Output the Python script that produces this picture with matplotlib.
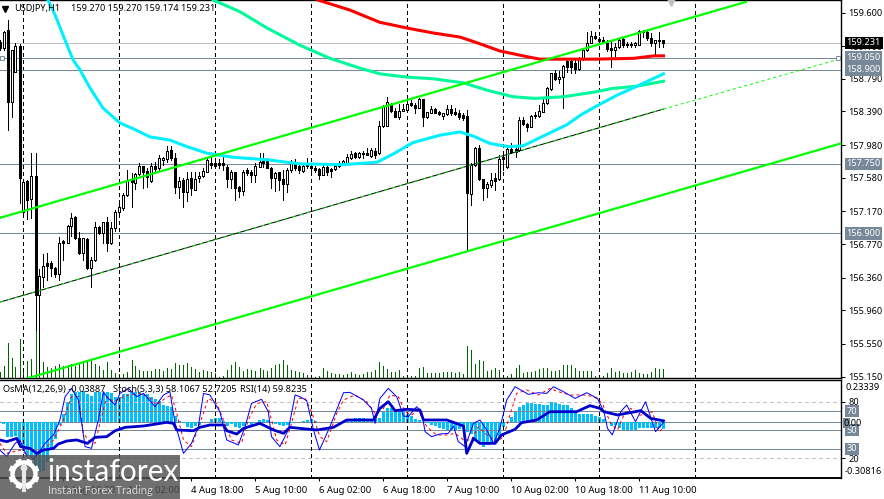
import numpy as np
import matplotlib
matplotlib.use("Agg")
import matplotlib.pyplot as plt
from matplotlib.patches import Rectangle, Circle

plt.rcParams['font.family'] = ['Noto Sans', 'DejaVu Sans']

# ---------- data ----------
first_bar = -1
opens = [159.24,159.17,159.39,158.51,158.87,159.19,157.16,157.54,157.32,157.60,
 156.15,156.37,156.54,156.54,156.48,156.40,156.81,156.78,156.99,157.10,
 156.84,156.66,156.83,156.48,156.58,156.98,156.90,157.04,156.78,156.97,
 157.16,157.21,157.37,157.55,157.52,157.63,157.72,157.66,157.54,157.72,
 157.70,157.80,157.81,157.92,157.82,157.47,157.55,157.41,157.58,157.43,
 157.58,157.60,157.65,157.76,157.76,157.76,157.76,157.71,157.56,157.65,
 157.47,157.42,157.68,157.65,157.61,157.71,157.81,157.80,157.70,157.58,
 157.65,157.56,157.50,157.68,157.76,157.72,157.66,157.74,157.72,157.70,
 157.69,157.61,157.71,157.69,157.69,157.72,157.76,157.76,157.82,157.88,
 157.83,157.88,157.88,157.85,157.91,157.88,158.21,158.21,158.47,158.40,
 158.32,158.40,158.41,158.49,158.47,158.43,158.54,158.32,158.37,158.42,
 158.38,158.34,158.36,158.42,158.38,158.37,158.35,158.33,157.38,157.74,
 157.94,157.56,157.45,157.49,157.58,157.56,157.83,157.71,157.93,157.93,
 157.92,158.29,158.24,158.20,158.35,158.33,158.38,158.49,158.67,158.86,
 158.79,158.81,159.01,159.01,158.98,158.91,159.03,159.14,159.23,159.31,
 159.28,159.26,159.23,159.17,159.14,159.18,159.28,159.21,159.21,159.20,
 159.20,159.37,159.36,159.29,159.23,159.27,159.27]
highs = [159.26,159.37,159.51,159.14,159.23,159.22,157.54,157.55,157.88,157.88,
 156.46,156.65,156.66,156.56,156.49,156.86,156.82,157.00,157.15,157.11,
 156.92,156.84,156.84,156.61,157.04,156.99,157.04,157.10,157.04,157.19,
 157.26,157.39,157.68,157.64,157.64,157.76,157.72,157.70,157.76,157.77,
 157.86,157.83,157.97,157.97,157.88,157.59,157.58,157.65,157.65,157.65,
 157.65,157.70,157.83,157.83,157.80,157.81,157.83,157.74,157.68,157.65,
 157.48,157.68,157.70,157.68,157.76,157.88,157.88,157.82,157.71,157.65,
 157.65,157.68,157.70,157.80,157.81,157.74,157.76,157.82,157.76,157.72,
 157.70,157.76,157.72,157.70,157.76,157.78,157.80,157.87,157.91,157.90,
 157.90,157.91,157.94,157.94,157.94,158.27,158.47,158.57,158.49,158.43,
 158.48,158.48,158.55,158.53,158.49,158.55,158.54,158.38,158.46,158.43,
 158.40,158.37,158.47,158.47,158.43,158.41,158.37,158.41,157.76,157.96,
 157.98,157.56,157.53,157.64,157.64,157.86,157.86,157.96,158.00,157.96,
 158.32,158.32,158.25,158.35,158.38,158.47,158.57,158.69,158.86,158.90,
 158.89,158.96,159.02,159.04,159.02,159.06,159.17,159.36,159.37,159.36,
 159.30,159.30,159.26,159.25,159.23,159.29,159.30,159.24,159.24,159.24,
 159.39,159.39,159.39,159.35,159.26,159.36,159.27]
lows = [159.14,159.14,158.16,158.32,158.87,157.27,157.12,157.08,157.09,155.72,
 155.17,156.24,156.33,156.38,156.37,156.33,156.58,156.78,156.87,156.83,
 156.65,156.58,156.46,156.24,156.56,156.89,156.78,156.68,156.77,156.93,
 157.15,157.19,157.36,157.22,157.44,157.61,157.45,157.47,157.53,157.65,
 157.68,157.74,157.77,157.80,157.39,157.33,157.22,157.30,157.37,157.43,
 157.53,157.59,157.65,157.70,157.70,157.70,157.68,157.47,157.45,157.31,
 157.34,157.37,157.61,157.53,157.53,157.71,157.71,157.70,157.45,157.42,
 157.43,157.31,157.40,157.65,157.68,157.64,157.65,157.70,157.64,157.65,
 157.56,157.61,157.61,157.59,157.68,157.71,157.74,157.76,157.81,157.82,
 157.82,157.82,157.86,157.83,157.82,157.87,158.20,158.21,158.38,158.32,
 158.30,158.40,158.41,158.46,158.37,158.43,158.21,158.31,158.37,158.37,
 158.35,158.30,158.35,158.35,158.35,158.30,158.29,156.70,157.25,157.72,
 157.55,157.31,157.34,157.47,157.43,157.55,157.68,157.70,157.88,157.83,
 157.91,158.23,158.15,158.20,158.31,158.32,158.38,158.48,158.65,158.78,
 158.74,158.43,158.87,158.86,158.86,158.90,159.02,159.13,159.23,159.28,
 159.23,159.23,159.13,158.93,159.07,159.17,159.18,159.18,159.18,159.18,
 159.20,159.30,159.26,159.19,159.07,159.18,159.174]
closes = [159.17,159.36,158.51,159.14,159.19,157.58,157.53,157.31,157.60,156.15,
 156.38,156.50,156.50,156.48,156.40,156.78,156.78,156.99,157.09,156.84,
 156.66,156.84,156.48,156.58,156.98,156.90,157.04,156.78,156.97,157.16,
 157.22,157.37,157.55,157.53,157.63,157.72,157.65,157.59,157.72,157.69,
 157.82,157.82,157.91,157.82,157.47,157.54,157.41,157.56,157.45,157.56,
 157.60,157.66,157.80,157.74,157.72,157.74,157.74,157.56,157.65,157.45,
 157.42,157.65,157.64,157.61,157.72,157.77,157.76,157.70,157.58,157.64,
 157.55,157.50,157.68,157.76,157.70,157.68,157.72,157.72,157.70,157.68,
 157.61,157.71,157.65,157.66,157.72,157.76,157.78,157.83,157.87,157.83,
 157.88,157.87,157.86,157.92,157.86,158.21,158.46,158.51,158.40,158.32,
 158.40,158.42,158.48,158.47,158.43,158.54,158.32,158.38,158.42,158.37,
 158.36,158.37,158.42,158.37,158.36,158.32,158.31,157.39,157.74,157.94,
 157.56,157.45,157.50,157.55,157.54,157.81,157.81,157.93,157.90,157.90,
 158.29,158.24,158.20,158.33,158.33,158.40,158.49,158.68,158.86,158.79,
 158.81,158.95,158.93,158.93,158.91,159.03,159.14,159.23,159.31,159.29,
 159.25,159.24,159.15,159.14,159.18,159.26,159.20,159.20,159.20,159.23,
 159.37,159.36,159.29,159.23,159.26,159.25,159.231]
volumes = [6,12,35,20,11,39,8,17,19,48,32,
 16,11,10,12,14,12,13,14,12,14,16,18,18,14,12,8,16,8,5,4,4,6,18,12,8,7,7,7,9,9,7,
 10,9,15,13,13,15,11,9,6,8,7,6,5,1,2,8,13,16,11,7,9,8,7,10,8,7,10,13,14,18,13,8,7,6,
 5,3,1,1,2,10,7,5,4,4,3,4,6,4,3,4,6,6,8,16,12,9,6,6,8,2,1,2,2,10,11,5,5,5,5,6,6,6,5,6,
 4,32,28,14,18,17,7,8,10,8,1,2,4,10,13,5,6,6,7,9,10,10,7,7,8,13,13,13,10,7,7,7,7,2,1,
 2,5,10,6,7,5,5,6,8,5,4,4,6,10,9,9]
osma = [0,-.01,-.083,-.083,-.074,-.11,-.16,-.184,-.22,-.30,-.276,-.267,-.22,-.147,-.092,-.018,
 .046,.11,.157,.166,.166,.175,.157,.144,.166,.166,.162,.169,.162,.138,.138,
 .157,.157,.166,.166,.166,.157,.157,.138,.129,.12,.096,.092,.083,.037,.009,
 -.004,-.028,-.033,-.022,-.015,0,.004,.018,.022,.022,.009,-.022,-.009,-.028,-.033,
 -.022,0,-.015,.004,.015,.018,.015,0,-.009,-.015,-.022,-.015,-.004,0,0,
 .009,.011,.018,.009,0,0,0,0,0,0,.009,.015,.018,.022,.022,.022,.018,.018,.018,.022,
 .064,.079,.077,.07,.07,.055,.046,.033,.018,.013,.004,-.004,-.013,-.022,-.033,
 -.037,-.041,-.041,-.041,-.037,-.037,-.055,-.064,-.101,-.12,-.138,-.125,-.114,-.101,-.083,
 -.028,.004,.028,.055,.083,.098,.105,.107,.101,.101,.098,.098,.11,.107,.101,
 .098,.096,.077,.055,.046,.046,.044,.044,.033,.028,
 .018,0,-.022,-.015,-.033,-.041,-.041,-.046,-.046,-.033,-.033,-.033,-.033,-.033,-.033,-.039]

cyan_bar = [11.1,12.9,15.4,17.4,19.1,21.6,24.9,29.1,32.4,36.6,41.6,45.9,50.9,57.4,65.9,74.1,
 84.9,93.4,97.4,102.4,109.1,114.1,117.4,121.6,126.1,129.9,134.1,140.9,144.4,148,153.4,158.4,165]
cyan_val = [159.753,159.57,159.26,159.02,158.90,158.68,158.43,158.25,158.18,158.08,158.04,157.96,
 157.88,157.83,157.80,157.75,157.74,157.77,157.87,158.01,158.10,158.14,158.09,158.00,157.96,157.97,
 158.07,158.23,158.35,158.45,158.59,158.70,158.85]
teal_bar = [52.4,59.1,65.9,74.1,81.6,89.1,94.1,100.9,107.4,115,120.9,127.4,132.9,140,148,152,158.4,165]
teal_val = [159.753,159.61,159.41,159.20,159.04,158.92,158.85,158.81,158.79,158.74,158.65,158.57,
 158.55,158.57,158.63,158.67,158.70,158.76]
red_bar = [78.6,86.6,94.1,100.9,107.4,114.1,118.4,124.1,130.9,134.1,140.9,148,157.6,162.6,165]
red_val = [159.753,159.63,159.48,159.41,159.35,159.30,159.23,159.13,159.06,159.03,159.03,159.03,
 159.04,159.07,159.07]

rsi_bar = [-0.9,0.8,3.3,4.3,6.6,8.3,10,12.5,13.7,15.8,18.3,21,22.9,25.8,27.9,30.4,35,40.8,42.5,43.3,
 47.5,49.1,51.6,55,55.8,58.3,60,64.1,67.5,70,71.6,74.1,78.3,82.5,85.8,92.5,94.1,96.2,97.9,100.8,
 104.1,105,110.8,115,115.8,117.5,119.1,122.9,124.5,127.9,129.5,133.3,136.6,143.3,146.6,149.1,
 150.1,153.5,159.3,161.8,165]
rsi_val = [39.5,37.7,41.2,32.4,30.6,25.3,28.8,30.6,35.2,38.4,39.5,35.9,42.3,43,49.3,52.9,54.3,58.2,
 57.1,50.1,49.3,52.9,55.4,55.4,49.3,45.8,51.8,57.1,50.1,46.5,52.9,51.8,50.1,52.9,60.7,60.7,73,80.1,
 70.6,72,71.3,60.7,60.7,54.3,25.3,41.2,35.9,35.9,44.8,50.8,57.8,60.7,69.5,69.5,75.9,73,
 69.5,66,70.6,62.4,59.8]
stoch_bar = [-0.9,0.8,2.9,4.1,6.6,8.3,10.4,12.5,14.1,15.4,17,18.7,20.4,22,23.7,25,25.8,27.9,29.1,31.2,
 33.3,35,37.9,40,41.6,42.9,45,47,48.7,50,51.6,54.1,55.8,58.7,60.4,62,64.5,66.2,67,69.1,71.2,72.9,74.1,
 75.8,77.5,79,81.6,85,86.6,90,92,92.9,94.1,96.2,98.3,100,101.2,103.3,104.5,105.4,107,109.1,111.2,
 112.5,113.7,115.4,117.5,119.1,120.8,122.5,124.1,125.8,127.9,131.2,133.7,135.8,137.5,140,142.9,145.8,
 148.5,150.1,151,152.2,154.3,155.8,158,160.5,163,165]
stoch_val = [28.8,21.8,35.9,39.5,14.7,23.5,35.9,44.8,60.7,85.4,94.2,81.9,32.4,30.6,60.7,90.7,85.4,76.6,
 88.9,94.2,85.4,88.9,74.8,87.2,90.7,57.1,25.3,35.9,53.6,88.9,87.2,69.5,39.5,34.2,53.6,78.3,82.6,69.5,
 43,32.4,50.1,87.2,85.4,81.2,50.1,28.8,53.6,89.6,90,81.9,73,57.1,83.6,94.2,85.4,64.9,64.2,74.8,69.5,
 48.3,43,45.8,46.5,54.3,37.7,32.4,57.1,60.7,50.1,35.9,51.8,81.9,96,87.9,89.6,88.9,96,90.7,83.6,89.6,
 83.6,69.5,51.8,44.8,69.5,76.6,58.9,80.1,48.3,58.1]
sig_bar = [-0.9,0.8,4.1,7.5,10,12.5,15,17,18.7,20,21.2,22.9,24.1,25.8,27.5,29.1,31.2,34.1,36.2,38.3,
 40.4,42,43.3,45,47,49.1,51.2,53.3,55,57,59.5,61.2,63.3,65.8,67,68.3,70.4,72,73.7,75.4,77,79.1,80.8,
 83.3,85,87.9,90.8,92.9,95,96.6,98.7,100.4,102,103.7,105.8,108.3,110.8,112.9,115,117,118.7,120.8,
 123.3,125,126.6,128.3,130.8,133.7,136.6,138.7,141.6,145,147.6,149.7,151.8,153.5,155.1,156.8,158.9,
 161,162.2,163.9,165]
sig_val = [35.9,25.3,28.8,20,28.8,39.5,60.7,85.4,85.4,46.5,39.5,35.9,57.1,85.4,80.1,83.6,87.2,88.9,85.4,
 76.6,83.6,87.2,67.7,39.5,32.4,57.1,83.6,78.3,60.7,39.5,35.9,60.7,78.3,80.1,60.7,39.5,34.2,57.1,83.6,
 83.6,69.5,43,37.7,67.7,81.9,87.2,80.1,67.7,73,87.2,85.4,69.5,66,71.3,53.6,44.8,44.8,46.5,39.5,39.5,
 53.6,44.8,37.7,43,66,88.9,92.5,87.2,94.2,90.7,87.2,87.2,85.4,78.3,57.1,50.1,66,73,66,66,69.5,48.3,52.7]

upper_bar, upper_val = [-0.875, 185.6], [157.09, 159.73]
mid_bar, mid_val = [-0.875, 165], [156.06, 158.42]
mid_ext_bar, mid_ext_val = [165, 208.9], [158.42, 159.03]
lower_bar, lower_val = [6.1, 209.4], [155.13, 158.00]

level_prices = [159.05, 158.90, 157.75, 156.90]
level_labels = ['159.050', '158.900', '157.750', '156.900']
last_price = 159.231
price_ticks = [159.600, 159.190, 158.790, 158.390, 157.980, 157.580, 157.170, 156.770, 156.360, 155.960, 155.550, 155.150]
day_bars = [5, 29, 53, 77, 101, 125, 149, 173]
time_bars = [-1, 15, 31, 47, 63, 79, 95, 111, 127, 143, 159]
time_labels = ['31 Jul 2026', '3 Aug 10:00', '4 Aug 02:00', '4 Aug 18:00', '5 Aug 10:00', '6 Aug 02:00',
               '6 Aug 18:00', '7 Aug 10:00', '10 Aug 02:00', '10 Aug 18:00', '11 Aug 10:00']

# ---------- style ----------
W, H = 884, 499
PX = 0.72
SLATE = '#778899'
FS = 6.6
fig = plt.figure(figsize=(W/100, H/100), dpi=100, facecolor='white')
def rect(x0, y0, x1, y1):
    return [x0/W, 1-y1/H, (x1-x0)/W, (y1-y0)/H]

bars = np.arange(first_bar, first_bar+len(opens))
O, Hi, Lo, C = map(np.array, (opens, highs, lows, closes))

# volumes behind the price axes
vax = fig.add_axes(rect(0, 0, 841, 378))
vax.set_xlim(-0.875, 209.375); vax.set_ylim(0, 378)
vax.axis('off')
vax.vlines(bars, 0, volumes, color='#006400', lw=PX, antialiased=False)

ax = fig.add_axes(rect(0, 0, 841, 378), sharex=vax)
ax.patch.set_alpha(0)
ax.set_ylim(155.132, 159.753)

for p in level_prices:
    ax.axhline(p, color=SLATE, lw=PX, zorder=2, antialiased=False)
ax.axhline(last_price, color='#c0c0c0', lw=PX, zorder=1.5, antialiased=False)
for k in day_bars:
    ax.axvline(k, color='black', lw=PX, ls=(0, (3, 3)), zorder=1.8, antialiased=False)

ax.vlines(bars, Lo, Hi, color='black', lw=PX, zorder=3, antialiased=False)
bot = np.minimum(O, C); ht = np.abs(C-O)
ax.bar(bars, ht, bottom=bot, width=0.5, color=['white' if c >= o else 'black' for o, c in zip(O, C)],
       edgecolor='black', lw=PX, zorder=4, antialiased=False)

ax.plot(cyan_bar, cyan_val, color='#00F0FF', lw=2.2, zorder=5)
ax.plot(teal_bar, teal_val, color='#00FA9A', lw=2.2, zorder=4.8)
ax.plot(red_bar, red_val, color='#FF0000', lw=2.2, zorder=5)
ax.plot(upper_bar, upper_val, color='#00FF00', lw=1.6, zorder=6)
ax.plot(lower_bar, lower_val, color='#00FF00', lw=1.6, zorder=6)
ax.plot(mid_bar, mid_val, color='black', lw=PX, zorder=6)
ax.plot(mid_bar, mid_val, color='#00FF00', lw=PX, ls=(0, (3, 5)), zorder=6.1)
ax.plot(mid_ext_bar, mid_ext_val, color='#00FF00', lw=PX, ls=(0, (3, 3)), zorder=6)
ax.plot([-0.4, 208.7], [159.05, 159.05], ls='none', marker='s', ms=3.4, mfc='white', mec=SLATE, mew=0.7, zorder=6, clip_on=False)

ax.yaxis.tick_right()
ax.set_yticks(price_ticks)
ax.set_yticklabels([f'{v:.3f}' for v in price_ticks])
ax.tick_params(axis='y', length=3, width=PX, pad=2.5, labelsize=FS)
ax.tick_params(axis='x', bottom=False, labelbottom=False)
ax.spines['left'].set_visible(False)
for s in ('top', 'bottom', 'right'):
    ax.spines[s].set_linewidth(1.0)

def price_box(a, y, txt, bg, fg='white', zo=20):
    a.annotate(txt, xy=(1, y), xycoords=('axes fraction', 'data'), xytext=(4, 0),
               textcoords='offset points', ha='left', va='center', fontsize=FS, color=fg, zorder=zo,
               annotation_clip=False,
               bbox=dict(boxstyle='square,pad=0.18', fc=bg, ec='none'))
for p, t in zip(level_prices, level_labels):
    price_box(ax, p, t, SLATE)
price_box(ax, last_price, '159.231', 'black', zo=21)

# indicator pane
ix = fig.add_axes(rect(0, 380, 841, 478), sharex=vax)
ix.set_ylim(-0.85, 103.1)
for k in day_bars:
    ix.axvline(k, color='black', lw=PX, ls=(0, (3, 3)), zorder=1.5, antialiased=False)
os_ax = ix.twinx()
os_ax.set_ylim(-0.30816, 0.23339)
os_ax.set_zorder(ix.get_zorder()-1)
ix.patch.set_alpha(0)
os_ax.bar(bars, osma, width=0.72, color='#00BFFF', antialiased=False, zorder=2)
os_ax.axhline(0, color=SLATE, lw=PX, zorder=1, antialiased=False)
os_ax.set_yticks([])
for s in os_ax.spines.values():
    s.set_visible(False)
for lv in (70, 50, 30):
    ix.axhline(lv, color=SLATE, lw=PX, zorder=1, antialiased=False)
for lv in (80, 20):
    ix.axhline(lv, color='#c0c0c0', lw=PX, ls=(0, (4, 3)), zorder=1, antialiased=False)
ix.plot(sig_bar, sig_val, color='#FF0000', lw=PX, ls=(0, (3, 3)), zorder=3)
ix.plot(stoch_bar, stoch_val, color='#0000FF', lw=PX, zorder=4)
ix.plot(rsi_bar, rsi_val, color='#0000CD', lw=2.0, zorder=5)
ix.yaxis.tick_right()
ix.set_yticks([80, 20]); ix.set_yticklabels(['80', '20'])
ix.tick_params(axis='y', length=3, width=PX, pad=2.5, labelsize=FS)
ix.set_xticks(time_bars)
ix.set_xticklabels(time_labels, ha='left', fontsize=FS+0.2)
ix.tick_params(axis='x', length=2.5, width=PX, pad=3)
ix.set_xlim(-0.875, 209.375)
ix.spines['left'].set_visible(False)
ix.spines['top'].set_linewidth(1.0)
ix.spines['bottom'].set_linewidth(1.4)
ix.spines['right'].set_linewidth(1.0)
for lv, t in ((70, '70'), (50, '50'), (30, '30')):
    price_box(ix, lv, t, SLATE)

# overlay: header texts, pane scale texts, watermark
ov = fig.add_axes([0, 0, 1, 1], zorder=50)
ov.set_xlim(0, W); ov.set_ylim(H, 0); ov.axis('off'); ov.patch.set_alpha(0)
ov.text(14, 8.5, 'USDJPY,H1', fontsize=FS, va='center', color='black')
ov.text(71, 8.5, '159.270 159.270 159.174 159.231', fontsize=FS, va='center', color='black')
ov.plot([5], [9], marker='v', ms=5, color='black', ls='none')
ov.plot([671], [2], marker='v', ms=6, color='#c0c0c0', ls='none')
ov.text(3, 389.5, 'OsMA(12,26,9) -0.03887', fontsize=FS, va='center', color='black')
ov.text(113, 389.5, 'Stoch(5,3,3) 58.1067 52.7205', fontsize=FS, va='center', color='black')
ov.text(240, 389.5, 'RSI(14) 59.8235', fontsize=FS, va='center', color='black')
ov.text(845, 387, '0.23339', fontsize=FS, va='center', color='black')
ov.add_patch(Rectangle((843, 418), 7, 10, fc=SLATE, ec='none'))
ov.text(844, 423.5, '0.00', fontsize=FS, va='center', color='black')
ov.text(845, 471.5, '-0.30816', fontsize=FS, va='center', color='black')

ov.add_patch(Rectangle((0, 455), 180, 44, fc='#505050', alpha=0.82, ec='none'))
gear = dict(color='white', lw=4.2, solid_capstyle='butt')
for a in np.deg2rad(np.arange(0, 360, 45) + 22.5):
    ov.plot([24+10*np.cos(a), 24+15.5*np.cos(a)], [474+10*np.sin(a), 474+15.5*np.sin(a)], **gear)
ov.add_patch(Circle((24, 474), 11.5, fc='none', ec='white', lw=3.2))
ov.plot([24, 24], [468, 490], color='#e8e8e8', lw=3)
ov.add_patch(Circle((24, 468), 3.4, fc='#e8e8e8', ec='none'))
ov.text(47, 472, 'instaforex', fontsize=21.5, family='Lato', color='white', va='center', ha='left')
ov.text(48.5, 490.5, 'Instant Forex Trading', fontsize=8.0, family='Lato', color='#d8d8d8', va='center', ha='left')

fig.savefig('out.png', dpi=100)
